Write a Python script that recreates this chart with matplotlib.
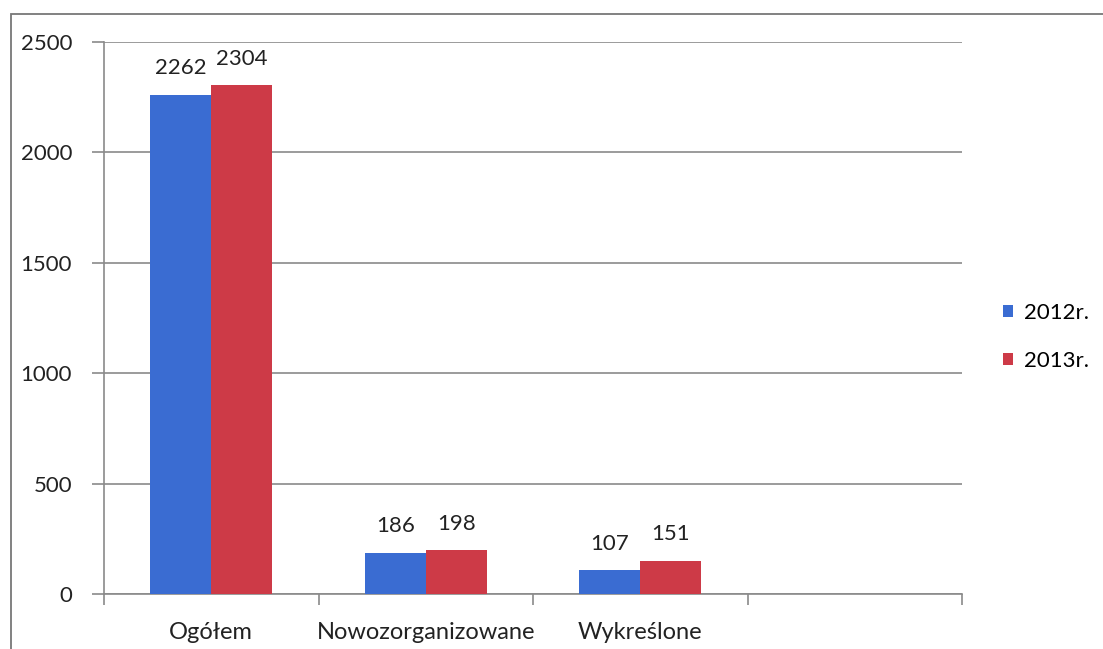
import numpy as np
import matplotlib.pyplot as plt
from matplotlib.patches import Rectangle

plt.rcParams['font.family'] = ['Lato', 'DejaVu Sans']

categories = ['Ogółem', 'Nowozorganizowane', 'Wykreślone', '']
series_names = ['2012r.', '2013r.']
values_2012 = [2262, 186, 107, 0]
values_2013 = [2304, 198, 151, 0]
y_ticks = [0, 500, 1000, 1500, 2000, 2500]

blue = '#3A6CD2'
red = '#CD3A47'
axis_grey = '#8a8a8a'
text_col = '#222222'

fig = plt.figure(figsize=(11.03, 6.49), dpi=100)
ax = fig.add_axes([104 / 1103, 1 - 594 / 649, (962 - 104) / 1103, (594 - 42) / 649])

# outer frame of the scanned chart box
fig.patches.append(Rectangle((11 / 1103, -0.1), 1.2, 1 - 14 / 649 + 0.1,
                             transform=fig.transFigure, fill=False,
                             edgecolor='#777777', linewidth=1.3, zorder=0))

x = np.arange(len(categories))
width = 0.285
n_shown = 3

bars1 = ax.bar(x[:n_shown] - width / 2, values_2012[:n_shown], width, color=blue,
               label=series_names[0], zorder=3)
bars2 = ax.bar(x[:n_shown] + width / 2, values_2013[:n_shown], width, color=red,
               label=series_names[1], zorder=3)

for b in list(bars1) + list(bars2):
    ax.text(b.get_x() + b.get_width() / 2, b.get_height() + 75, f'{int(b.get_height())}',
            ha='center', va='bottom', fontsize=16, color=text_col)

ax.set_xlim(-0.5, len(categories) - 0.5)
ax.set_ylim(0, 2500)
ax.set_yticks(y_ticks)
ax.set_yticklabels([str(t) for t in y_ticks], fontsize=16, color=text_col)
ax.yaxis.grid(True, color=axis_grey, linewidth=1.2, zorder=0)

ax.set_xticks(x)
ax.set_xticklabels(categories, fontsize=17, color=text_col)
ax.tick_params(axis='x', which='major', length=0, pad=20)
ax.set_xticks(np.arange(-0.5, len(categories)), minor=True)
ax.tick_params(axis='x', which='minor', length=8, color=axis_grey, width=1.2)
ax.tick_params(axis='y', length=9, color=axis_grey, width=1.2, pad=14)

for s in ['top', 'right']:
    ax.spines[s].set_visible(False)
for s in ['left', 'bottom']:
    ax.spines[s].set_color(axis_grey)
    ax.spines[s].set_linewidth(1.2)
ax.set_facecolor('none')

ax.legend(loc='center left', bbox_to_anchor=(1.048, 0.466), frameon=False,
          fontsize=16, handlelength=0.45, handleheight=0.45, handletextpad=0.5,
          labelspacing=1.24, borderpad=0, borderaxespad=0)

fig.savefig('out.png', dpi=100)
